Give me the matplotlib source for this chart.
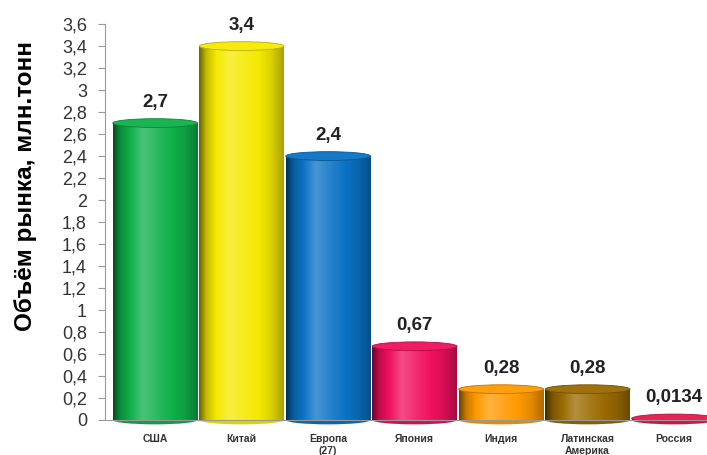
import numpy as np
import matplotlib.pyplot as plt
from matplotlib.patches import Rectangle, Ellipse
from matplotlib.colors import to_rgb

# data
regions = ["США", "Китай", "Европа\n(27)", "Япония", "Индия", "Латинская\nАмерика", "Россия"]
volumes = [2.7, 3.4, 2.4, 0.67, 0.28, 0.28, 0.0134]
value_labels = ["2,7", "3,4", "2,4", "0,67", "0,28", "0,28", "0,0134"]
colors = ["#0FB04A", "#F5EA00", "#0A72C4", "#F0105E", "#FF9A00", "#9A6A00", "#E8174C"]
yticks = [round(0.2 * i, 1) for i in range(19)]

plt.rcParams['font.family'] = ['Liberation Sans', 'DejaVu Sans']

fig = plt.figure(figsize=(7.07, 4.55), dpi=100)
ax = fig.add_axes([0.1485, 0.077, 0.86, 0.870])

width = 0.98
cap_h = 0.08


def shade(c, k):
    c = np.array(to_rgb(c))
    if k >= 0:
        return c + (1 - c) * k
    return c * (1 + k)


# horizontal shading profile across a cylinder
prof_x = np.linspace(0, 1, 60)
prof_k = np.interp(prof_x, [0, 0.08, 0.35, 0.55, 0.85, 1.0], [-0.55, -0.2, 0.25, 0.1, -0.1, -0.3])

for i, (v, c) in enumerate(zip(volumes, colors)):
    x0 = i - width / 2
    grad = np.array([[shade(c, k) for k in prof_k]])
    rect = Rectangle((x0, 0), width, v, facecolor='none', edgecolor='none')
    ax.add_patch(rect)
    im = ax.imshow(grad, extent=[x0, x0 + width, 0, v], aspect='auto', zorder=2,
                   interpolation='bilinear')
    im.set_clip_path(rect)
    # bottom rounding
    ax.add_patch(Ellipse((i, 0), width, cap_h, facecolor=shade(c, -0.1),
                         edgecolor='none', zorder=1.9, clip_on=False))
    # top cap
    ax.add_patch(Ellipse((i, v), width, cap_h, facecolor=shade(c, 0.05),
                         edgecolor=shade(c, -0.25), linewidth=0.6, zorder=3))
    ax.text(i, v + cap_h / 2 + 0.07, value_labels[i], ha='center', va='bottom',
            fontsize=13.5, fontweight='bold', color='#222222', zorder=4)

ax.set_xlim(-0.58, 6.45)
ax.set_ylim(0, 3.6)
ax.set_yticks(yticks)
ax.set_yticklabels([("%g" % t).replace('.', ',') for t in yticks], fontsize=13, color='#333333')
ax.set_xticks(range(len(regions)))
ax.set_xticklabels(regions, fontsize=7.5, fontweight='bold', color='#333333', linespacing=1.3)
ax.tick_params(axis='x', length=0, pad=10)
ax.tick_params(axis='y', length=5, color='#999999', pad=8)
ax.set_ylabel("Объём рынка, млн.тонн", fontsize=17.5, fontweight='bold')
ax.yaxis.set_label_coords(-0.112, 0.59)

for s in ['top', 'right']:
    ax.spines[s].set_visible(False)
ax.spines['left'].set_color('#999999')
ax.spines['bottom'].set_color('#999999')

fig.savefig("out.png", dpi=100)
